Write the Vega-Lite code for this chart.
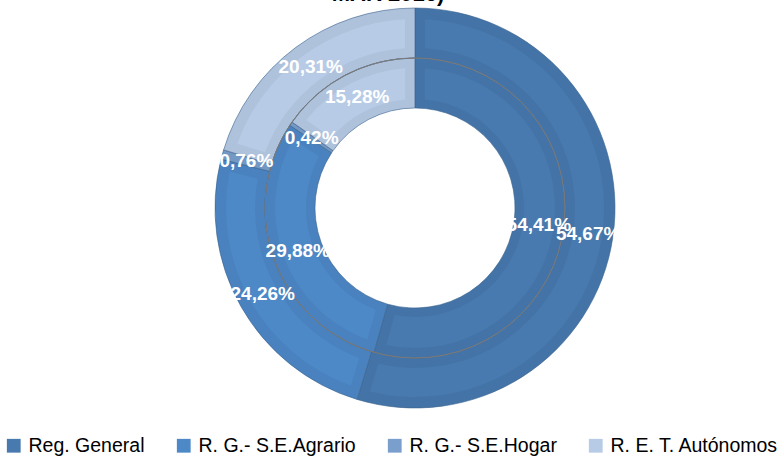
{
  "$schema": "https://vega.github.io/schema/vega-lite/v6.json",
  "width": 730,
  "height": 416,
  "autosize": {"type": "none"},
  "padding": {"left": 50, "top": 0, "right": 0, "bottom": 41},
  "background": "white",
  "title": {
    "text": "MAR 2016)",
    "font": "Liberation Sans",
    "fontSize": 22,
    "fontWeight": "bold",
    "color": "#000000",
    "anchor": "middle",
    "dx": -27,
    "dy": 10
  },
  "data": {
    "values": [
      {"ring": "outer", "cat": "Reg. General", "order": 1, "value": 54.67, "label": "54,67%"},
      {"ring": "outer", "cat": "R. G.- S.E.Agrario", "order": 2, "value": 24.26, "label": "24,26%"},
      {"ring": "outer", "cat": "R. G.- S.E.Hogar", "order": 3, "value": 0.76, "label": "0,76%"},
      {"ring": "outer", "cat": "R. E. T. Autónomos", "order": 4, "value": 20.31, "label": "20,31%"},
      {"ring": "inner", "cat": "Reg. General", "order": 1, "value": 54.41, "label": "54,41%"},
      {"ring": "inner", "cat": "R. G.- S.E.Agrario", "order": 2, "value": 29.88, "label": "29,88%"},
      {"ring": "inner", "cat": "R. G.- S.E.Hogar", "order": 3, "value": 0.42, "label": "0,42%"},
      {"ring": "inner", "cat": "R. E. T. Autónomos", "order": 4, "value": 15.28, "label": "15,28%"}
    ]
  },
  "encoding": {
    "theta": {"field": "value", "type": "quantitative", "stack": true},
    "order": {"field": "order", "type": "quantitative"},
    "color": {
      "field": "cat",
      "type": "nominal",
      "sort": ["Reg. General", "R. G.- S.E.Agrario", "R. G.- S.E.Hogar", "R. E. T. Autónomos"],
      "scale": {
        "domain": ["Reg. General", "R. G.- S.E.Agrario", "R. G.- S.E.Hogar", "R. E. T. Autónomos"],
        "range": ["#487AAF", "#4D88C7", "#7A9FCD", "#B7CBE6"]
      },
      "legend": {
        "title": null,
        "orient": "none",
        "legendX": -46,
        "legendY": 436,
        "padding": 0,
        "direction": "horizontal",
        "columns": 4,
        "gridAlign": "none",
        "columnPadding": 29,
        "symbolType": "square",
        "symbolSize": 190,
        "symbolStrokeWidth": 0,
        "symbolOffset": 0,
        "labelOffset": 5,
        "labelFont": "Liberation Sans",
        "labelFontSize": 19.5,
        "labelColor": "#000000",
        "labelLimit": 300
      }
    }
  },
  "layer": [
    {
      "transform": [{"filter": "datum.ring === 'outer'"}],
      "mark": {"type": "arc", "radius": 200, "radius2": 150, "stroke": "#3d6590", "strokeWidth": 0.6}
    },
    {
      "transform": [{"filter": "datum.ring === 'outer'"}],
      "mark": {"type": "arc", "radius": 200, "radius2": 150, "fill": "#000000", "fillOpacity": 0.045},
      "encoding": {"color": {"value": "#000000"}}
    },
    {
      "transform": [{"filter": "datum.ring === 'outer'"}],
      "mark": {"type": "arc", "radius": 189, "radius2": 160, "padAngle": 0.08}
    },
    {
      "transform": [{"filter": "datum.ring === 'inner'"}],
      "mark": {"type": "arc", "radius": 150, "radius2": 100, "stroke": "#3d6590", "strokeWidth": 0.6}
    },
    {
      "transform": [{"filter": "datum.ring === 'inner'"}],
      "mark": {"type": "arc", "radius": 150, "radius2": 100, "fill": "#000000", "fillOpacity": 0.045},
      "encoding": {"color": {"value": "#000000"}}
    },
    {
      "transform": [{"filter": "datum.ring === 'inner'"}],
      "mark": {"type": "arc", "radius": 140, "radius2": 109, "padAngle": 0.11}
    },
    {
      "data": {"values": [{"v": 1}]},
      "mark": {"type": "arc", "radius": 150, "radius2": 150, "stroke": "#7a7a7a", "strokeWidth": 0.8, "fill": null},
      "encoding": {"theta": {"value": 6.2832}, "color": {"value": null}, "order": {"value": 0}}
    },
    {
      "transform": [{"filter": "datum.ring === 'outer'"}],
      "mark": {"type": "text", "radius": 175, "font": "Liberation Sans", "fontWeight": "bold", "fontSize": 19, "fill": "white", "align": "center", "baseline": "middle"},
      "encoding": {"text": {"field": "label"}, "color": {"value": "white"}}
    },
    {
      "transform": [{"filter": "datum.ring === 'inner'"}],
      "mark": {"type": "text", "radius": 125, "font": "Liberation Sans", "fontWeight": "bold", "fontSize": 19, "fill": "white", "align": "center", "baseline": "middle"},
      "encoding": {"text": {"field": "label"}, "color": {"value": "white"}}
    }
  ]
}
